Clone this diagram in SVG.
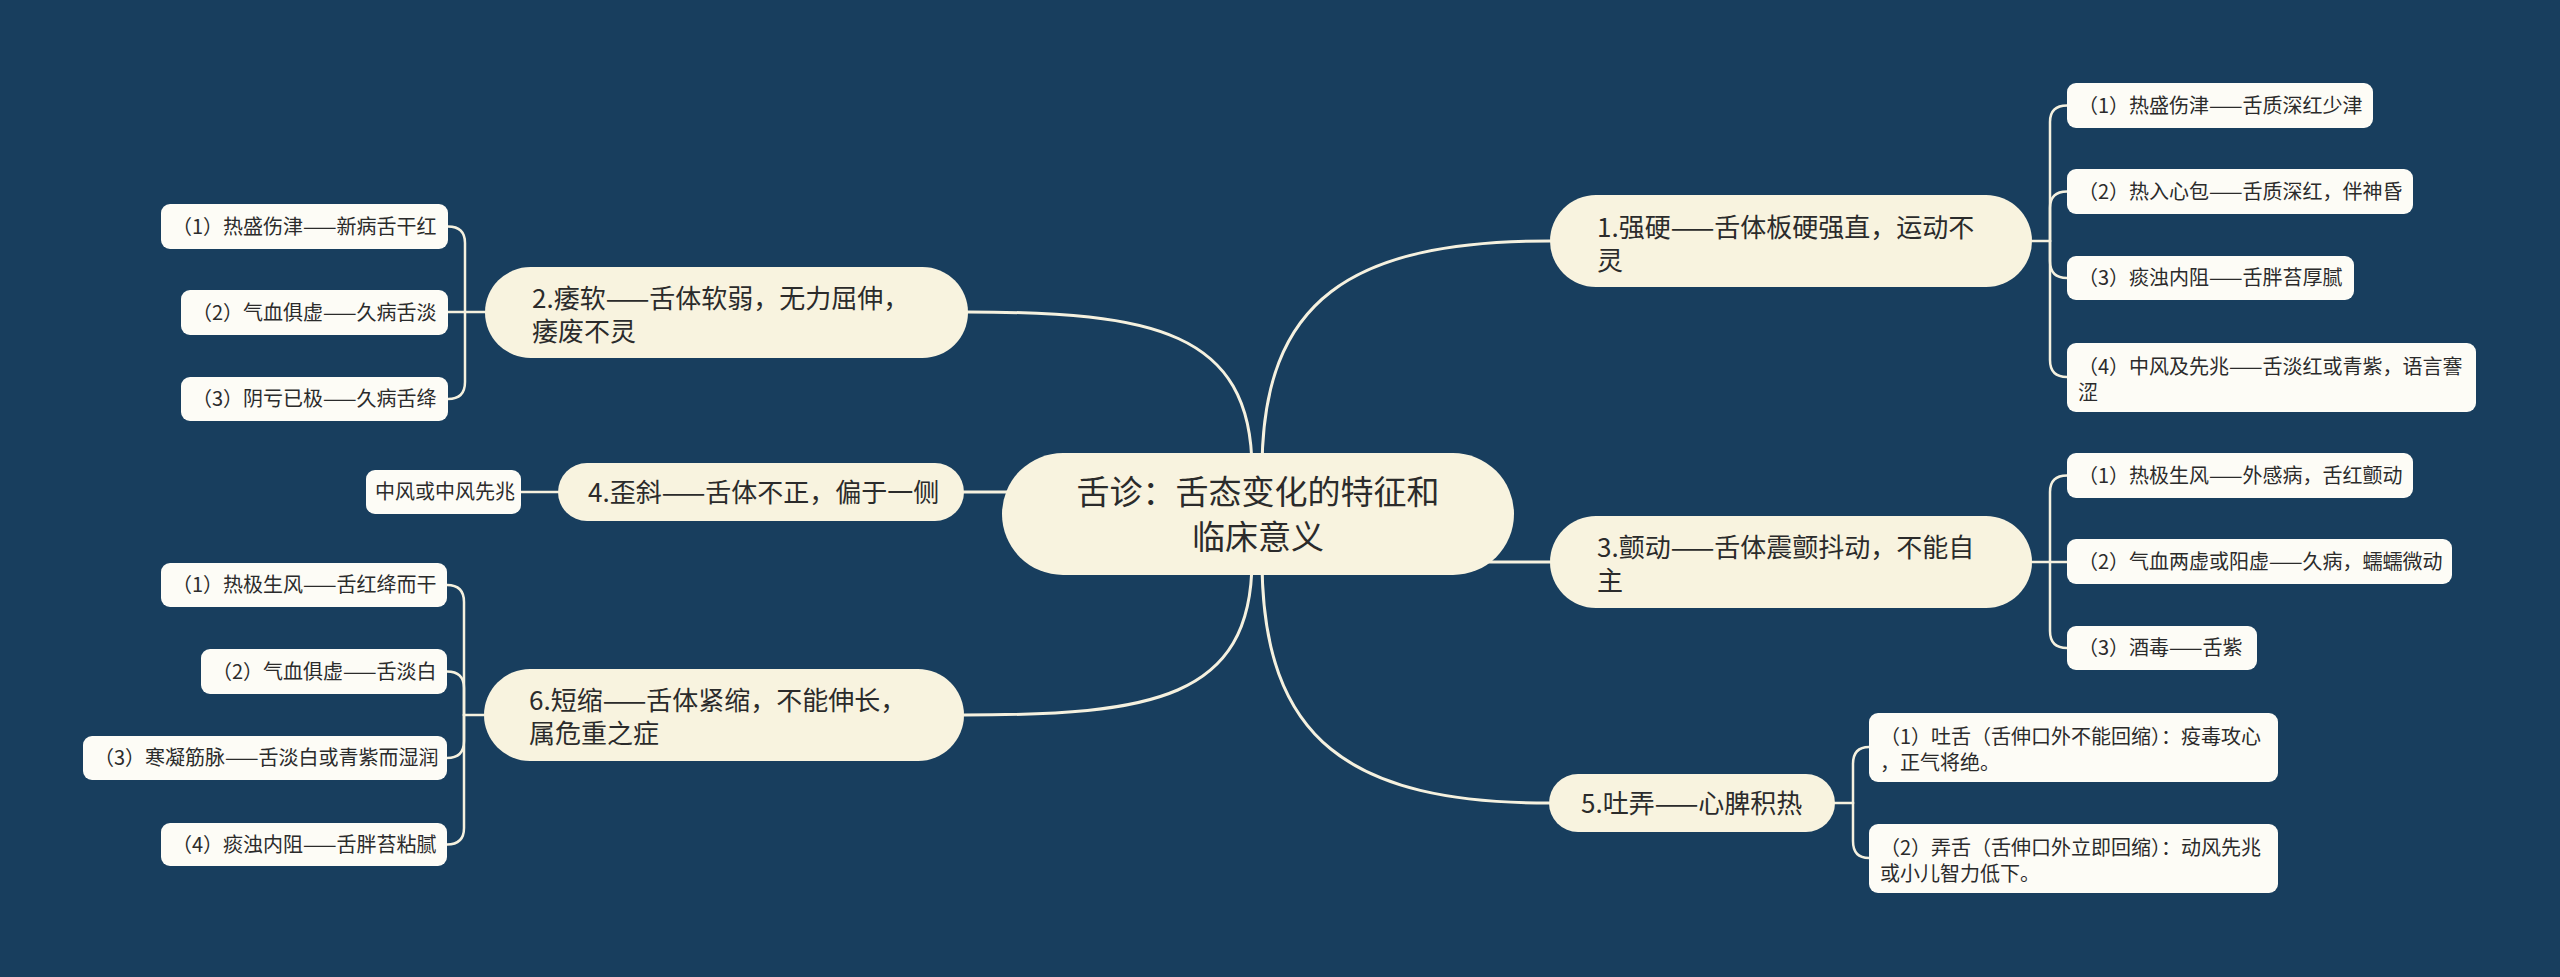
<svg xmlns="http://www.w3.org/2000/svg" width="2560" height="977" viewBox="0 0 2560 977">
<style>
text{font-family:"Noto Sans CJK SC","Noto Sans",sans-serif;fill:#2b2b2b}
.main rect{fill:#f8f3df}
.sub rect{fill:#fdfcf6}
.main text{font-size:26px}
.sub text{font-size:20px}
.root text{font-size:33px;text-anchor:middle}
.root rect{fill:#f8f3df}
#connectors path{fill:none;stroke:#f5f1df;stroke-linecap:round}
.c1{stroke-width:3}
.c2{stroke-width:2.5}
</style>
<rect width="2560" height="977" fill="#183e5e"/>
<g id="connectors">
<!-- root to main -->
<path class="c1" d="M1262,470 C1262,300 1350,241 1550,241"/>
<path class="c1" d="M1252,470 C1252,330 1150,312 968,312"/>
<path class="c1" d="M1252,560 C1252,700 1150,715 964,715"/>
<path class="c1" d="M1262,560 C1262,740 1350,803 1549,803"/>
<path class="c1" d="M964,492 H1100"/>
<path class="c1" d="M1450,562 H1550"/>
<!-- node 1 children -->
<path class="c2" d="M2032,241 H2050"/>
<path class="c2" d="M2050,241 V122 Q2050,105.5 2067,105.5"/>
<path class="c2" d="M2050,241 V208 Q2050,191.5 2067,191.5"/>
<path class="c2" d="M2050,241 V261 Q2050,278 2067,278"/>
<path class="c2" d="M2050,241 V360 Q2050,377 2067,377"/>
<!-- node 3 children -->
<path class="c2" d="M2032,562 H2067"/>
<path class="c2" d="M2050,562 V492 Q2050,475.5 2067,475.5"/>
<path class="c2" d="M2050,562 V631 Q2050,648 2067,648"/>
<!-- node 5 children -->
<path class="c2" d="M1835,803 H1853"/>
<path class="c2" d="M1853,803 V764 Q1853,747 1869,747"/>
<path class="c2" d="M1853,803 V841 Q1853,858 1869,858"/>
<!-- node 2 children -->
<path class="c2" d="M485,312 H448"/>
<path class="c2" d="M465,312 V243 Q465,226.5 448,226.5"/>
<path class="c2" d="M465,312 V382 Q465,399 448,399"/>
<!-- node 4 child -->
<path class="c2" d="M558,492 H521"/>
<!-- node 6 children -->
<path class="c2" d="M484,715 H464"/>
<path class="c2" d="M464,715 V602 Q464,585 447,585"/>
<path class="c2" d="M464,715 V688 Q464,671.5 447,671.5"/>
<path class="c2" d="M464,715 V741 Q464,758 447,758"/>
<path class="c2" d="M464,715 V828 Q464,844.5 447,844.5"/>
</g>

<g id="root" class="root">
<rect x="1002" y="453" width="512" height="122" rx="61"/>
<text x="1258" y="504">舌诊：舌态变化的特征和</text>
<text x="1258" y="549">临床意义</text>
</g>

<g id="n1" class="main">
<rect x="1550" y="195" width="482" height="92" rx="46"/>
<text x="1597" y="237">1.强硬——舌体板硬强直，运动不</text>
<text x="1597" y="270">灵</text>
</g>
<g id="n2" class="main">
<rect x="485" y="267" width="483" height="91" rx="45.5"/>
<text x="532" y="308">2.痿软——舌体软弱，无力屈伸，</text>
<text x="532" y="341">痿废不灵</text>
</g>
<g id="n3" class="main">
<rect x="1550" y="516" width="482" height="92" rx="46"/>
<text x="1597" y="557">3.颤动——舌体震颤抖动，不能自</text>
<text x="1597" y="590">主</text>
</g>
<g id="n4" class="main">
<rect x="558" y="463" width="406" height="58" rx="29"/>
<text x="588" y="502">4.歪斜——舌体不正，偏于一侧</text>
</g>
<g id="n5" class="main">
<rect x="1549" y="774" width="286" height="58" rx="29"/>
<text x="1581" y="813">5.吐弄——心脾积热</text>
</g>
<g id="n6" class="main">
<rect x="484" y="669" width="480" height="92" rx="46"/>
<text x="529" y="710">6.短缩——舌体紧缩，不能伸长，</text>
<text x="529" y="743">属危重之症</text>
</g>

<g id="n1a" class="sub"><rect x="2067" y="83" width="306" height="45" rx="9"/><text x="2078" y="113">（1）热盛伤津——舌质深红少津</text></g>
<g id="n1b" class="sub"><rect x="2067" y="169" width="346" height="45" rx="9"/><text x="2078" y="199">（2）热入心包——舌质深红，伴神昏</text></g>
<g id="n1c" class="sub"><rect x="2067" y="256" width="287" height="44" rx="9"/><text x="2078" y="285">（3）痰浊内阻——舌胖苔厚腻</text></g>
<g id="n1d" class="sub"><rect x="2067" y="343" width="409" height="69" rx="9"/><text x="2078" y="374">（4）中风及先兆——舌淡红或青紫，语言謇</text><text x="2078" y="400">涩</text></g>

<g id="n3a" class="sub"><rect x="2067" y="453" width="346" height="45" rx="9"/><text x="2078" y="483">（1）热极生风——外感病，舌红颤动</text></g>
<g id="n3b" class="sub"><rect x="2067" y="539" width="385" height="45" rx="9"/><text x="2078" y="569">（2）气血两虚或阳虚——久病，蠕蠕微动</text></g>
<g id="n3c" class="sub"><rect x="2067" y="626" width="190" height="44" rx="9"/><text x="2078" y="655">（3）酒毒——舌紫</text></g>

<g id="n5a" class="sub"><rect x="1869" y="713" width="409" height="69" rx="9"/><text x="1880" y="744">（1）吐舌（舌伸口外不能回缩）：疫毒攻心</text><text x="1880" y="770">，正气将绝。</text></g>
<g id="n5b" class="sub"><rect x="1869" y="824" width="409" height="69" rx="9"/><text x="1880" y="855">（2）弄舌（舌伸口外立即回缩）：动风先兆</text><text x="1880" y="881">或小儿智力低下。</text></g>

<g id="n2a" class="sub"><rect x="161" y="204" width="287" height="45" rx="9"/><text x="172" y="234">（1）热盛伤津——新病舌干红</text></g>
<g id="n2b" class="sub"><rect x="181" y="290" width="267" height="45" rx="9"/><text x="192" y="320">（2）气血俱虚——久病舌淡</text></g>
<g id="n2c" class="sub"><rect x="181" y="377" width="267" height="44" rx="9"/><text x="192" y="406">（3）阴亏已极——久病舌绛</text></g>

<g id="n4a" class="sub"><rect x="366" y="470" width="155" height="44" rx="9"/><text x="375" y="499">中风或中风先兆</text></g>

<g id="n6a" class="sub"><rect x="161" y="563" width="286" height="44" rx="9"/><text x="172" y="592">（1）热极生风——舌红绛而干</text></g>
<g id="n6b" class="sub"><rect x="201" y="649" width="246" height="45" rx="9"/><text x="212" y="679">（2）气血俱虚——舌淡白</text></g>
<g id="n6c" class="sub"><rect x="83" y="736" width="364" height="44" rx="9"/><text x="94" y="765">（3）寒凝筋脉——舌淡白或青紫而湿润</text></g>
<g id="n6d" class="sub"><rect x="161" y="823" width="286" height="43" rx="9"/><text x="172" y="852">（4）痰浊内阻——舌胖苔粘腻</text></g>
</svg>
